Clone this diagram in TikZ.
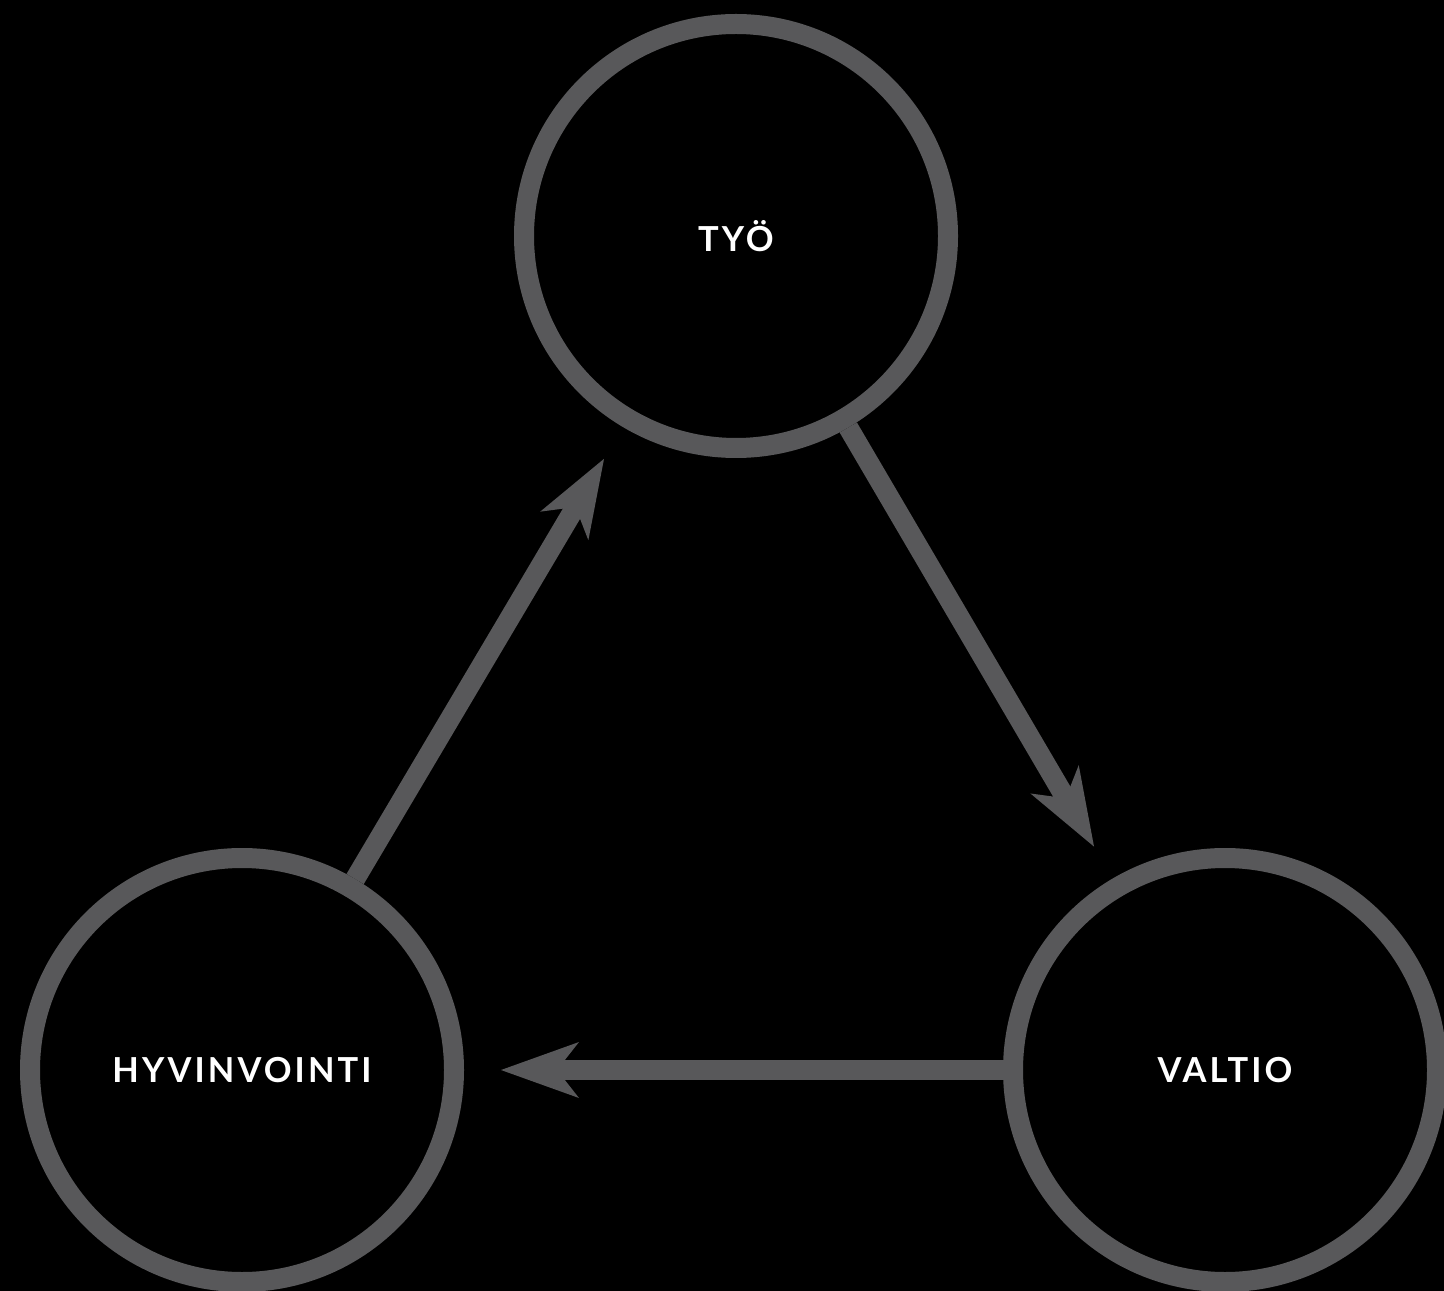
\documentclass[tikz,border=0pt]{standalone}
\usepackage{fontspec}
\setmainfont{Lato}
\usetikzlibrary{arrows.meta}
\definecolor{ringgray}{RGB}{88,88,90}
\tikzset{
  ring/.style={circle, draw=ringgray, line width=0.2cm, minimum size=4.24cm, inner sep=0pt,
    text=white, font=\fontsize{9.8pt}{11pt}\selectfont\bfseries\addfontfeatures{LetterSpace=9}},
  flow/.style={draw=ringgray, line width=0.2cm, shorten >=0.37cm,
    -{Stealth[length=0.78cm, width=0.56cm, inset=0.22cm, line width=0pt]}}
}
\begin{document}
\begin{tikzpicture}
\fill[black] (0,0) rectangle (14.44,-12.91);
\useasboundingbox (0,0) rectangle (14.44,-12.91);
\node[ring] (tyo) at (7.36,-2.36) {TYÖ};
\node[ring] (hyv) at (2.42,-10.70) {HYVINVOINTI};
\node[ring] (val) at (12.25,-10.70) {VALTIO};
\draw[flow] (hyv) -- (tyo);
\draw[flow] (tyo) -- (val);
\draw[flow] (val) -- (hyv);
\end{tikzpicture}
\end{document}
